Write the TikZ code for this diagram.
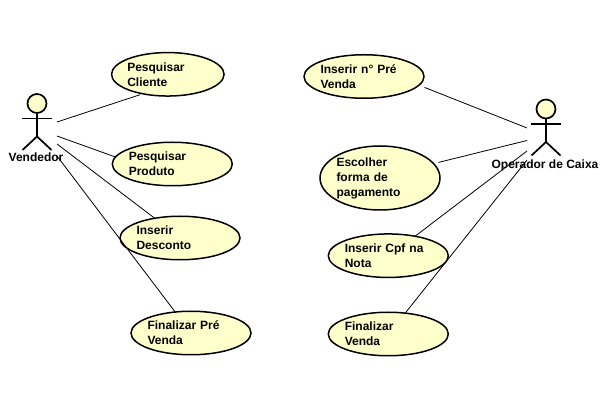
\documentclass[tikz,border=0pt]{standalone}
\usepackage{fontspec}
\setmainfont{Liberation Sans}
\usetikzlibrary{shapes.geometric, positioning}
\definecolor{casefill}{RGB}{255,255,204}
\tikzset{
  usecase/.style={ellipse, draw=black, line width=1.5pt, fill=casefill,
                  inner sep=0pt, outer sep=0pt, text width=75pt, align=left,
                  minimum width=120pt, minimum height=43.5pt,
                  font=\bfseries\fontsize{12}{15}\selectfont,
                  execute at begin node={\leftskip=#1}},
  usecase/.default=-6pt,
  actorname/.style={inner sep=0pt, font=\bfseries\fontsize{12}{15}\selectfont},
  assoc/.style={draw=black, line width=0.8pt},
  actor/.pic={
    \node[circle, draw=black, line width=1.7pt, fill=casefill, inner sep=0pt,
          minimum size=19pt] (-head) at (0,0) {};
    \draw[line width=1.7pt] (-head.south) -- (0,33);
    \draw[line width=1.7pt] (-15,15) -- (15,15);
    \draw[line width=1.7pt] (-14.5,46.5) -- (0,33) -- (14.5,46.5);
  },
}
\begin{document}
\begin{tikzpicture}[x=1pt, y=-1pt]
  \useasboundingbox (0,0) rectangle (608,403);

  % Vendedor side
  \pic (vend) at (37,103.5) {actor};
  \node[actorname] (vendedor) at (36,157.5) {Vendedor};
  \node[usecase=-3pt, minimum width=112.5pt] (cliente) at (167.8,74.3)
    {Pesquisar\\Cliente};
  \node[usecase] (produto) at (172.3,164) {Pesquisar\\Produto};
  \node[usecase] (desconto) at (180,238) {Inserir\\Desconto};
  \node[usecase] (prevenda) at (191,333) {Finalizar Pré\\Venda};

  % Operador side
  \pic (oper) at (546,109) {actor};
  \node[actorname] (operador) at (545,165.5) {Operador de Caixa};
  \node[usecase] (npre) at (364,76.5) {Inserir n° Pré\\Venda};
  \node[usecase, minimum height=64pt] (pagamento) at (380,178)
    {Escolher\\forma de\\pagamento};
  \node[usecase] (cpf) at (388.3,255.7) {Inserir Cpf na\\Nota};
  \node[usecase] (venda) at (388.3,334) {Finalizar\\Venda};

  % Free ends next to the actors
  \coordinate (v1) at (57,122);
  \coordinate (v2) at (57,136);
  \coordinate (v3) at (57,144);
  \coordinate (v4) at (57,156);
  \coordinate (o1) at (527,128);
  \coordinate (o2) at (527,140.5);
  \coordinate (o3) at (527,151);
  \coordinate (o4) at (527,160);

  % Associations
  \draw[assoc, shorten >=3pt] (v1) -- (cliente.218);
  \draw[assoc] (v2) -- (produto.173);
  \draw[assoc] (v3) -- (desconto.142);
  \draw[assoc] (v4) -- (prevenda.127.3);
  \draw[assoc, shorten >=6pt] (o1) -- (npre.351.3);
  \draw[assoc, shorten >=5pt] (o2) -- (pagamento.15.4);
  \draw[assoc] (o3) -- (cpf.36.7);
  \draw[assoc] (o4) -- (venda.51.2);
\end{tikzpicture}
\end{document}
